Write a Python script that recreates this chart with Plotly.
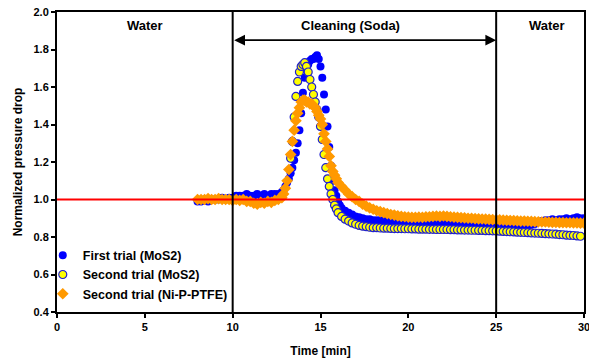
import plotly.graph_objects as go

# ---------------- data ----------------
TIME_FIRST_MOS2 = [
    8.0, 8.2, 8.4, 8.6, 8.8, 9.0, 9.2, 9.4, 9.6, 9.8, 10.0, 10.2, 10.4, 10.6, 10.8,
    11.0, 11.2, 11.4, 11.6, 11.8, 12.0, 12.2, 12.4, 12.6, 12.8,
    12.9, 13.0, 13.1, 13.2, 13.3, 13.4, 13.5, 13.6, 13.7, 13.8, 13.9, 14.0, 14.1, 14.2,
    14.3, 14.4, 14.5, 14.6, 14.7, 14.8, 14.9, 15.0, 15.1, 15.2, 15.3, 15.4, 15.5, 15.6,
    15.7, 15.8, 15.9, 16.0, 16.1, 16.2,
    16.4, 16.6, 16.8, 17.0, 17.2, 17.4, 17.6, 17.8, 18.0, 18.2,
    18.4, 18.6, 18.8, 19.0, 19.2, 19.4, 19.6, 19.8, 20.0, 20.2,
    20.4, 20.6, 20.8, 21.0, 21.2, 21.4, 21.6, 21.8, 22.0, 22.2,
    22.4, 22.6, 22.8, 23.0, 23.2, 23.4, 23.6, 23.8, 24.0, 24.2,
    24.4, 24.6, 24.8, 25.0, 25.2, 25.4, 25.6, 25.8, 26.0, 26.2,
    26.4, 26.6, 26.8, 27.0, 27.2, 27.4, 27.6, 27.8, 28.0, 28.2,
    28.4, 28.6, 28.8, 29.0, 29.2, 29.4, 29.6, 29.8, 30.0,
]
NORM_FIRST_MOS2 = [
    0.99, 0.99, 1.00, 0.99, 1.00, 1.00, 1.00, 1.01, 1.00, 1.01, 1.01, 1.02, 1.02, 1.02, 1.03,
    1.02, 1.02, 1.03, 1.02, 1.03, 1.02, 1.03, 1.03, 1.03, 1.04,
    1.05, 1.07, 1.09, 1.11, 1.14, 1.17, 1.21, 1.25, 1.30, 1.37, 1.46, 1.57, 1.65, 1.70,
    1.72, 1.74, 1.75, 1.75, 1.76, 1.77, 1.75, 1.71, 1.65, 1.56, 1.48, 1.39, 1.28, 1.18,
    1.10, 1.05, 1.02, 0.99, 0.97, 0.955,
    0.94, 0.93, 0.92, 0.91, 0.905, 0.90, 0.895, 0.895, 0.89, 0.89,
    0.89, 0.885, 0.885, 0.885, 0.88, 0.885, 0.88, 0.88, 0.88, 0.875,
    0.88, 0.875, 0.875, 0.87, 0.875, 0.87, 0.87, 0.87, 0.875, 0.87,
    0.865, 0.87, 0.865, 0.865, 0.865, 0.86, 0.865, 0.86, 0.86, 0.86,
    0.86, 0.855, 0.86, 0.86, 0.855, 0.855, 0.855, 0.855, 0.855, 0.855,
    0.855, 0.86, 0.86, 0.865, 0.87, 0.88, 0.885, 0.89, 0.89, 0.895,
    0.89, 0.895, 0.895, 0.90, 0.895, 0.90, 0.905, 0.90, 0.90,
]

TIME_SECOND_MOS2 = [
    13.3, 13.4, 13.5, 13.6, 13.7, 13.8, 13.9, 14.0, 14.1, 14.2, 14.3, 14.4, 14.5, 14.6,
    14.7, 14.8, 14.9, 15.0, 15.1, 15.2, 15.3, 15.4, 15.5, 15.6, 15.7, 15.8, 15.9, 16.0,
    16.2, 16.4, 16.6, 16.8, 17.0, 17.2, 17.4, 17.6, 17.8, 18.0,
    18.2, 18.4, 18.6, 18.8, 19.0, 19.2, 19.4, 19.6, 19.8, 20.0,
    20.2, 20.4, 20.6, 20.8, 21.0, 21.2, 21.4, 21.6, 21.8, 22.0,
    22.2, 22.4, 22.6, 22.8, 23.0, 23.2, 23.4, 23.6, 23.8, 24.0,
    24.2, 24.4, 24.6, 24.8, 25.0, 25.2, 25.4, 25.6, 25.8, 26.0,
    26.2, 26.4, 26.6, 26.8, 27.0, 27.2, 27.4, 27.6, 27.8, 28.0,
    28.2, 28.4, 28.6, 28.8, 29.0, 29.2, 29.4, 29.6, 29.8,
]
NORM_SECOND_MOS2 = [
    1.22, 1.31, 1.44, 1.55, 1.63, 1.68, 1.71, 1.72, 1.73, 1.71, 1.68, 1.64, 1.60, 1.56,
    1.52, 1.48, 1.44, 1.39, 1.32, 1.24, 1.17, 1.11, 1.07, 1.03, 1.00, 0.97, 0.95, 0.93,
    0.91, 0.895, 0.885, 0.875, 0.868, 0.862, 0.858, 0.855, 0.852, 0.85,
    0.85, 0.848, 0.847, 0.847, 0.846, 0.845, 0.845, 0.845, 0.844, 0.844,
    0.843, 0.843, 0.842, 0.842, 0.842, 0.841, 0.841, 0.84, 0.84, 0.84,
    0.84, 0.839, 0.839, 0.838, 0.838, 0.837, 0.837, 0.836, 0.836, 0.835,
    0.835, 0.834, 0.834, 0.833, 0.832, 0.831, 0.83, 0.829, 0.828, 0.827,
    0.826, 0.825, 0.824, 0.823, 0.822, 0.821, 0.82, 0.819, 0.818, 0.817,
    0.816, 0.815, 0.813, 0.812, 0.81, 0.809, 0.808, 0.806, 0.804,
]

TIME_SECOND_NIPPTFE = [
    8.0, 8.2, 8.4, 8.6, 8.8, 9.0, 9.2, 9.4, 9.6, 9.8, 10.0, 10.2, 10.4, 10.6, 10.8,
    11.0, 11.2, 11.4, 11.6, 11.8, 12.0, 12.2, 12.4, 12.6, 12.8,
    12.9, 13.0, 13.1, 13.2, 13.3, 13.4, 13.5, 13.6, 13.7, 13.8,
    13.9, 14.0, 14.1, 14.2, 14.3, 14.4, 14.5, 14.6, 14.7, 14.8,
    14.9, 15.0, 15.1, 15.2, 15.3, 15.4, 15.5, 15.6, 15.7, 15.8, 15.9, 16.0,
    16.2, 16.4, 16.6, 16.8, 17.0, 17.2, 17.4, 17.6, 17.8, 18.0,
    18.2, 18.4, 18.6, 18.8, 19.0, 19.2, 19.4, 19.6, 19.8, 20.0,
    20.2, 20.4, 20.6, 20.8, 21.0, 21.2, 21.4, 21.6, 21.8, 22.0,
    22.2, 22.4, 22.6, 22.8, 23.0, 23.2, 23.4, 23.6, 23.8, 24.0,
    24.2, 24.4, 24.6, 24.8, 25.0, 25.2, 25.4, 25.6, 25.8, 26.0,
    26.2, 26.4, 26.6, 26.8, 27.0, 27.2, 27.4, 27.6, 27.8, 28.0,
    28.2, 28.4, 28.6, 28.8, 29.0, 29.2, 29.4, 29.6, 29.8, 30.0,
]
NORM_SECOND_NIPPTFE = [
    1.0, 1.0, 1.0, 1.005, 1.0, 1.0, 1.005, 1.0, 1.0, 1.0, 0.995, 1.0, 0.995, 1.0, 0.99,
    0.99, 0.98, 0.975, 0.985, 0.98, 0.99, 0.985, 0.995, 1.0, 1.01,
    1.03, 1.06, 1.10, 1.16, 1.24, 1.31, 1.37, 1.42, 1.46, 1.49,
    1.52, 1.53, 1.53, 1.52, 1.52, 1.51, 1.51, 1.50, 1.49, 1.47,
    1.45, 1.43, 1.40, 1.35, 1.31, 1.27, 1.23, 1.18, 1.15, 1.13, 1.11, 1.09,
    1.07, 1.05, 1.03, 1.015, 1.0, 0.99, 0.975, 0.965, 0.955, 0.948,
    0.94, 0.935, 0.93, 0.925, 0.92, 0.917, 0.913, 0.91, 0.908, 0.906,
    0.905, 0.905, 0.906, 0.905, 0.907, 0.908, 0.91, 0.912, 0.91, 0.912,
    0.91, 0.908, 0.906, 0.905, 0.903, 0.902, 0.9, 0.9, 0.898, 0.897,
    0.896, 0.895, 0.894, 0.893, 0.892, 0.891, 0.89, 0.889, 0.888, 0.887,
    0.886, 0.885, 0.885, 0.884, 0.883, 0.882, 0.881, 0.88, 0.88, 0.879,
    0.878, 0.878, 0.877, 0.877, 0.876, 0.876, 0.875, 0.875, 0.874, 0.874,
]

SERIES_NAMES = ["First trial (MoS2)", "Second trial (MoS2)", "Second trial (Ni-P-PTFE)"]
X_TICKS = [0, 5, 10, 15, 20, 25, 30]
Y_TICKS = [0.4, 0.6, 0.8, 1.0, 1.2, 1.4, 1.6, 1.8, 2.0]
PHASE_LABELS = ["Water", "Cleaning (Soda)", "Water"]
PHASE_LABEL_X = [5, 16.7, 27.9]
PHASE_BOUNDS = [10, 25]
REFERENCE_LEVEL = 1.0

assert len(TIME_FIRST_MOS2) == len(NORM_FIRST_MOS2)
assert len(TIME_SECOND_MOS2) == len(NORM_SECOND_MOS2)
assert len(TIME_SECOND_NIPPTFE) == len(NORM_SECOND_NIPPTFE)

FONT = "Arial, 'Liberation Sans', sans-serif"

fig = go.Figure()
fig.add_trace(go.Scatter(
    x=TIME_FIRST_MOS2, y=NORM_FIRST_MOS2, mode="markers", name=SERIES_NAMES[0],
    marker=dict(symbol="circle", size=8, color="#0000FF", line=dict(width=0)),
))
fig.add_trace(go.Scatter(
    x=TIME_SECOND_MOS2, y=NORM_SECOND_MOS2, mode="markers", name=SERIES_NAMES[1],
    marker=dict(symbol="circle", size=8, color="#FFFF00", line=dict(width=1.2, color="#1f1fd0")),
))
fig.add_trace(go.Scatter(
    x=TIME_SECOND_NIPPTFE, y=NORM_SECOND_NIPPTFE, mode="markers", name=SERIES_NAMES[2],
    marker=dict(symbol="diamond", size=9, color="#FF9900", line=dict(width=0)),
))

# red reference line at 1.0
fig.add_shape(type="line", xref="x", yref="y", x0=0, x1=30, y0=REFERENCE_LEVEL, y1=REFERENCE_LEVEL,
              line=dict(color="#FF0000", width=2), layer="above")
# phase boundaries
for xb in PHASE_BOUNDS:
    fig.add_shape(type="line", xref="x", yref="y", x0=xb, x1=xb, y0=0.4, y1=2.0,
                  line=dict(color="#000000", width=2), layer="above")

# double-headed arrow for cleaning phase
fig.add_annotation(x=PHASE_BOUNDS[1], y=1.85, ax=PHASE_BOUNDS[0], ay=1.85,
                   xref="x", yref="y", axref="x", ayref="y", text="",
                   showarrow=True, arrowhead=2, arrowside="end+start",
                   arrowsize=1.2, arrowwidth=1.8, arrowcolor="#000000")

for lbl, lx in zip(PHASE_LABELS, PHASE_LABEL_X):
    fig.add_annotation(x=lx, y=1.93, xref="x", yref="y", text=lbl, showarrow=False,
                       font=dict(family=FONT, size=13, color="#000000", weight="bold"))

fig.update_layout(
    width=589, height=362,
    margin=dict(l=57, r=5, t=12, b=50, autoexpand=False),
    paper_bgcolor="white", plot_bgcolor="white",
    font=dict(family=FONT, color="#000000", size=11),
    showlegend=True,
    legend=dict(x=-0.027, y=0.238, xanchor="left", yanchor="top",
                bgcolor="rgba(0,0,0,0)", borderwidth=0,
                font=dict(family=FONT, size=12.5, weight="bold", color="#000000"),
                itemwidth=30, tracegroupgap=0),
)
fig.update_xaxes(
    range=[0, 30], tickvals=X_TICKS, ticks="outside", ticklen=4, tickwidth=1.5, tickcolor="#000",
    showline=True, linecolor="#000", linewidth=2, mirror=True, showgrid=False, zeroline=False,
    automargin=False, ticklabeloverflow="allow",
    tickfont=dict(family=FONT, size=11, weight="bold"),
    title=dict(text="Time [min]", font=dict(family=FONT, size=12, weight="bold"), standoff=14),
)
fig.update_yaxes(
    range=[0.4, 2.0], tickvals=Y_TICKS, tickformat=".1f", ticks="outside", ticklen=4,
    tickwidth=1.5, tickcolor="#000",
    showline=True, linecolor="#000", linewidth=2, mirror=True, showgrid=False, zeroline=False,
    automargin=False,
    tickfont=dict(family=FONT, size=11, weight="bold"),
    title=dict(text="Normalized pressure drop", font=dict(family=FONT, size=12, weight="bold"), standoff=8),
)

fig.write_html("out.html")
